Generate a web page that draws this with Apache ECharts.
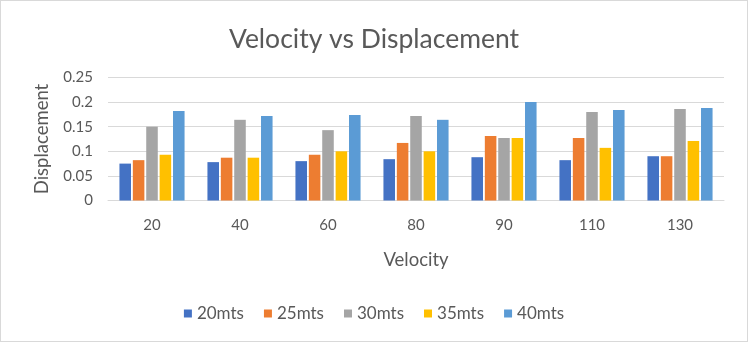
<!DOCTYPE html>
<html>
<head>
<meta charset="utf-8">
<script src="https://cdn.jsdelivr.net/npm/echarts@6/dist/echarts.min.js"></script>
<style>
  html, body { margin: 0; padding: 0; background: #fff; }
  #chart { width: 748px; height: 342px; box-sizing: border-box; border: 1px solid #d9d9d9; }
</style>
</head>
<body>
<div id="chart"></div>
<script>
// Velocity categories and displacement for each distance series
const velocities = ['20', '40', '60', '80', '90', '110', '130'];
const seriesNames = ['20mts', '25mts', '30mts', '35mts', '40mts'];
const d20 = [0.075, 0.078, 0.080, 0.084, 0.088, 0.082, 0.090];
const d25 = [0.082, 0.087, 0.093, 0.117, 0.131, 0.127, 0.090];
const d30 = [0.150, 0.164, 0.143, 0.172, 0.127, 0.180, 0.186];
const d35 = [0.093, 0.087, 0.100, 0.100, 0.127, 0.107, 0.121];
const d40 = [0.182, 0.172, 0.174, 0.164, 0.200, 0.184, 0.188];
const seriesData = [d20, d25, d30, d35, d40];
const colors = ['#4472C4', '#ED7D31', '#A5A5A5', '#FFC000', '#5B9BD5'];

const FONT = 'Lato, "Open Sans", sans-serif';
const TEXT = '#595959';

const chart = echarts.init(document.getElementById('chart'), null, { renderer: 'canvas' });

chart.setOption({
  animation: false,
  color: colors,
  title: {
    text: 'Velocity vs Displacement',
    left: 'center',
    top: 20,
    textStyle: { fontFamily: FONT, fontSize: 26.5, fontWeight: 'normal', color: TEXT }
  },
  legend: {
    top: 299,
    left: 'center',
    itemWidth: 8,
    itemHeight: 8,
    itemGap: 20,
    icon: 'rect',
    textStyle: { fontFamily: FONT, fontSize: 17, color: TEXT },
    data: seriesNames
  },
  grid: { left: 107, right: 23, top: 76.5, bottom: 140.5 },
  xAxis: {
    type: 'category',
    data: velocities,
    name: 'Velocity',
    nameLocation: 'middle',
    nameGap: 50,
    nameTextStyle: { fontFamily: FONT, fontSize: 18.5, color: TEXT },
    axisLine: { lineStyle: { color: '#d9d9d9', width: 1 } },
    axisTick: { show: false },
    axisLabel: { fontFamily: FONT, fontSize: 15, color: TEXT, margin: 17 }
  },
  yAxis: {
    type: 'value',
    min: 0,
    max: 0.25,
    interval: 0.05,
    name: 'Displacement',
    nameLocation: 'middle',
    nameGap: 56,
    nameTextStyle: { fontFamily: FONT, fontSize: 18.5, color: TEXT },
    axisLine: { show: false },
    axisTick: { show: false },
    axisLabel: { fontFamily: FONT, fontSize: 15, color: TEXT, margin: 15 },
    splitLine: { lineStyle: { color: '#d9d9d9', width: 1 } }
  },
  series: seriesNames.map((name, i) => ({
    name: name,
    type: 'bar',
    data: seriesData[i],
    barGap: '16%',
    barCategoryGap: '26%',
    itemStyle: { color: colors[i] }
  }))
});
</script>
</body>
</html>
